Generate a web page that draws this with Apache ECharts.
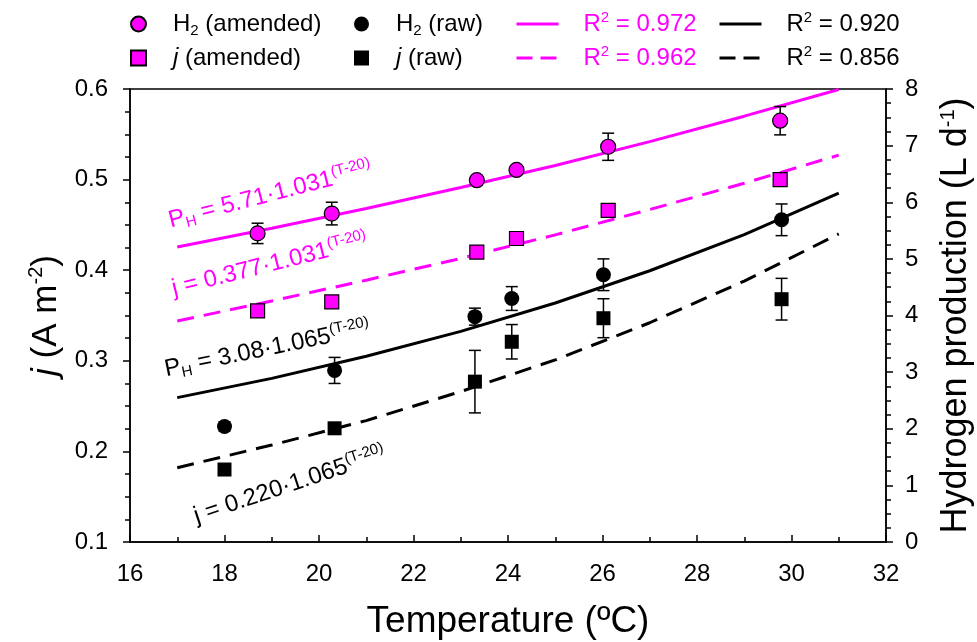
<!DOCTYPE html>
<html><head><meta charset="utf-8">
<style>html,body{margin:0;padding:0;background:#fff}#c{width:977px;height:642px}</style>
<script src="https://cdn.jsdelivr.net/npm/echarts@6/dist/echarts.min.js"></script>
</head><body><div id="c"></div>
<script>
// ---------- data ----------
const tAmended   = [18.7, 20.27, 23.34, 24.18, 26.12, 29.76];
const hAmended   = [5.45, 5.80, 6.39, 6.57, 6.98, 7.44];
const hAmendedErr= [0.18, 0.20, 0.07, 0.07, 0.24, 0.25];
const jAmended   = [0.355, 0.365, 0.420, 0.435, 0.466, 0.500];
const jAmendedErr= [0.004, 0.004, 0.005, 0.005, 0.004, 0.006];

const tRaw       = [18.0, 20.33, 23.3, 24.08, 26.02, 29.79];
const hRaw       = [2.04, 3.03, 3.98, 4.30, 4.72, 5.69];
const hRawErr    = [0.08, 0.23, 0.15, 0.21, 0.28, 0.28];
const jRaw       = [0.180, 0.2255, 0.277, 0.321, 0.347, 0.368];
const jRawErr    = [0.003, 0.004, 0.0345, 0.019, 0.0215, 0.023];

// fitted curves
const tFit        = [17, 19, 21, 23, 25, 27, 29, 31];
const hAmendedFit = [5.21, 5.54, 5.89, 6.26, 6.65, 7.07, 7.52, 7.99];
const jAmendedFit = [0.344, 0.366, 0.389, 0.413, 0.439, 0.467, 0.496, 0.527];
const hRawFit     = [2.55, 2.89, 3.28, 3.72, 4.22, 4.79, 5.43, 6.16];
const jRawFit     = [0.182, 0.207, 0.234, 0.266, 0.301, 0.342, 0.388, 0.440];

const seriesNames = ['H2 (amended)', 'j (amended)', 'H2 (raw)', 'j (raw)'];
const fitNames    = ['R2 = 0.972', 'R2 = 0.962', 'R2 = 0.920', 'R2 = 0.856'];
const xTitle = 'Temperature (ºC)';
const yLeftTitle = '{it|j} (A m{sup|-2})';
const yRightTitle = 'Hydrogen production (L d{sup|-1})';
const equations = [
  'P{sub|H} = 5.71·1.031{sup|(T-20)}',
  'j = 0.377·1.031{sup|(T-20)}',
  'P{sub|H} = 3.08·1.065{sup|(T-20)}',
  'j = 0.220·1.065{sup|(T-20)}'
];

// ---------- styling ----------
const MAG = '#ff00ff';
const FONT = '"Liberation Sans", Arial, sans-serif';
const DASH = [17, 10];
const zip = (a, b) => a.map((v, i) => [v, b[i]]);

function errSeries(t, v, e, yIdx) {
  return {
    type: 'custom', yAxisIndex: yIdx, silent: true, z: 4,
    data: t.map((x, i) => [x, v[i], e[i]]),
    encode: { x: 0, y: 1 },
    renderItem: (params, api) => {
      const x = api.value(0), y = api.value(1), er = api.value(2);
      const top = api.coord([x, y + er]);
      const bot = api.coord([x, y - er]);
      const hw = 6, st = { stroke: '#000', lineWidth: 1.5 };
      return { type: 'group', children: [
        { type: 'line', shape: { x1: top[0], y1: top[1], x2: bot[0], y2: bot[1] }, style: st },
        { type: 'line', shape: { x1: top[0] - hw, y1: top[1], x2: top[0] + hw, y2: top[1] }, style: st },
        { type: 'line', shape: { x1: bot[0] - hw, y1: bot[1], x2: bot[0] + hw, y2: bot[1] }, style: st }
      ]};
    }
  };
}

const legendRich = (color) => ({
  sub: { fontSize: 15, verticalAlign: 'bottom', lineHeight: 14, color: color, fontFamily: FONT },
  sup: { fontSize: 15, verticalAlign: 'top', lineHeight: 14, color: color, fontFamily: FONT },
  it:  { fontSize: 24, fontStyle: 'italic', lineHeight: 28, color: color, fontFamily: FONT }
});
const legendFmt = (name) => name.replace(/^H2/, 'H{sub|2}').replace(/^R2/, 'R{sup|2}').replace(/^j /, '{it|j} ');
const hidden = { color: 'rgba(0,0,0,0)', borderColor: 'rgba(0,0,0,0)', borderWidth: 0, opacity: 0 };
function mkLegend(items, left, isLine, color) {
  return {
    data: items, left: left, top: 10, orient: 'vertical', itemGap: 6, padding: 0,
    itemWidth: isLine ? 42 : 15, itemHeight: 15, selectedMode: false,
    formatter: legendFmt,
    textStyle: { fontSize: 24, fontFamily: FONT, color: color, lineHeight: 28,
                 padding: [0, 0, 0, isLine ? 20 : 22], rich: legendRich(color) }
  };
}

const axisCommon = {
  axisLine: { show: true, lineStyle: { color: '#000', width: 1.5 } },
  splitLine: { show: false },
};

const chart = echarts.init(document.getElementById('c'), null, { renderer: 'canvas' });
chart.setOption({
  animation: false,
  backgroundColor: '#fff',
  grid: { left: 130, right: 91, top: 89, bottom: 100, show: true, borderColor: '#000', borderWidth: 1.5,
          containLabel: false, outerBoundsMode: 'none' },
  legend: [
    mkLegend([seriesNames[0], seriesNames[1]], 130, false, '#000'),
    mkLegend([seriesNames[2], seriesNames[3]], 354, false, '#000'),
    mkLegend([
      { name: fitNames[0], itemStyle: hidden, lineStyle: { color: MAG, width: 3, type: 'solid' } },
      { name: fitNames[1], itemStyle: hidden, lineStyle: { color: MAG, width: 3, type: [16, 8] } }
    ], 515, true, MAG),
    mkLegend([
      { name: fitNames[2], itemStyle: hidden, lineStyle: { color: '#000', width: 3, type: 'solid' } },
      { name: fitNames[3], itemStyle: hidden, lineStyle: { color: '#000', width: 3, type: [16, 8] } }
    ], 718, true, '#000')
  ],
  xAxis: Object.assign({
    type: 'value', min: 16, max: 32, interval: 2,
    axisTick: { inside: true, length: 7, lineStyle: { color: '#000', width: 1.5 } },
    minorTick: { show: true, splitNumber: 2, length: 5, lineStyle: { color: '#000', width: 1.5 } },
    axisLabel: { fontSize: 24, color: '#000', margin: 20, fontFamily: FONT },
    name: xTitle, nameLocation: 'middle', nameGap: 61,
    nameTextStyle: { fontSize: 37, color: '#000', fontFamily: FONT }
  }, axisCommon),
  yAxis: [
    Object.assign({
      type: 'value', min: 0.1, max: 0.6, interval: 0.1, position: 'left',
      axisTick: { inside: false, length: 7, lineStyle: { color: '#000', width: 1.5 } },
      minorTick: { show: true, splitNumber: 4, length: 5, lineStyle: { color: '#000', width: 1.5 } },
      axisLabel: { fontSize: 24, color: '#000', margin: 22, fontFamily: FONT, formatter: v => v.toFixed(1) },
      name: yLeftTitle, nameLocation: 'middle', nameGap: 62, nameRotate: 90,
      nameTextStyle: { fontSize: 35, color: '#000', fontFamily: FONT,
        rich: { it: { fontSize: 35, fontStyle: 'italic', fontFamily: FONT, color: '#000', lineHeight: 40 },
                sup: { fontSize: 20, verticalAlign: 'top', fontFamily: FONT, color: '#000', lineHeight: 20 } } }
    }, axisCommon),
    Object.assign({
      type: 'value', min: 0, max: 8, interval: 1, position: 'right',
      axisTick: { inside: false, length: 7, lineStyle: { color: '#000', width: 1.5 } },
      minorTick: { show: true, splitNumber: 4, length: 5, lineStyle: { color: '#000', width: 1.5 } },
      axisLabel: { fontSize: 24, color: '#000', margin: 19, fontFamily: FONT },
      name: yRightTitle, nameLocation: 'middle', nameGap: 52, nameRotate: 90,
      nameTextStyle: { fontSize: 36, color: '#000', fontFamily: FONT,
        rich: { sup: { fontSize: 20, verticalAlign: 'top', fontFamily: FONT, color: '#000', lineHeight: 20 } } }
    }, axisCommon)
  ],
  series: [
    { name: fitNames[0], type: 'line', yAxisIndex: 1, data: zip(tFit, hAmendedFit), symbol: 'none', showSymbol: false, z: 3,
      lineStyle: { color: MAG, width: 3 }, itemStyle: { color: MAG } },
    { name: fitNames[1], type: 'line', yAxisIndex: 0, data: zip(tFit, jAmendedFit), symbol: 'none', showSymbol: false, z: 3,
      lineStyle: { color: MAG, width: 3, type: DASH }, itemStyle: { color: MAG } },
    { name: fitNames[2], type: 'line', yAxisIndex: 1, data: zip(tFit, hRawFit), symbol: 'none', showSymbol: false, z: 3,
      lineStyle: { color: '#000', width: 3 }, itemStyle: { color: '#000' } },
    { name: fitNames[3], type: 'line', yAxisIndex: 0, data: zip(tFit, jRawFit), symbol: 'none', showSymbol: false, z: 3,
      lineStyle: { color: '#000', width: 3, type: DASH }, itemStyle: { color: '#000' } },
    errSeries(tAmended, hAmended, hAmendedErr, 1),
    errSeries(tAmended, jAmended, jAmendedErr, 0),
    errSeries(tRaw, hRaw, hRawErr, 1),
    errSeries(tRaw, jRaw, jRawErr, 0),
    { name: seriesNames[0], type: 'scatter', yAxisIndex: 1, data: zip(tAmended, hAmended), symbol: 'circle', symbolSize: 15, z: 5,
      itemStyle: { color: MAG, borderColor: '#000', borderWidth: 1.2, opacity: 1 } },
    { name: seriesNames[1], type: 'scatter', yAxisIndex: 0, data: zip(tAmended, jAmended), symbol: 'rect', symbolSize: 14, z: 5,
      itemStyle: { color: MAG, borderColor: '#000', borderWidth: 1.2, opacity: 1 } },
    { name: seriesNames[2], type: 'scatter', yAxisIndex: 1, data: zip(tRaw, hRaw), symbol: 'circle', symbolSize: 15, z: 5,
      itemStyle: { color: '#000', opacity: 1 } },
    { name: seriesNames[3], type: 'scatter', yAxisIndex: 0, data: zip(tRaw, jRaw), symbol: 'rect', symbolSize: 14, z: 5,
      itemStyle: { color: '#000', opacity: 1 } }
  ]
});

// equation annotations anchored in data coordinates
const noteAnchors = [
  { at: [16.9, 5.43], axis: 1, angle: 14.5, color: MAG },
  { at: [16.97, 0.364], axis: 0, angle: 14, color: MAG },
  { at: [16.8, 2.80], axis: 1, angle: 11.5, color: '#000' },
  { at: [17.46, 0.113], axis: 0, angle: 18.5, color: '#000' }
];
const graphics = noteAnchors.map((n, i) => {
  const p = chart.convertToPixel({ xAxisIndex: 0, yAxisIndex: n.axis }, n.at);
  return {
    type: 'text', x: p[0], y: p[1], rotation: n.angle * Math.PI / 180, silent: true, z: 10,
    style: {
      text: equations[i], fill: n.color, fontSize: 24, fontFamily: FONT, lineHeight: 28,
      align: 'left', verticalAlign: 'bottom',
      rich: {
        sub: { fontSize: 15, verticalAlign: 'bottom', lineHeight: 12, fill: n.color, fontFamily: FONT },
        sup: { fontSize: 15, verticalAlign: 'top', lineHeight: 12, fill: n.color, fontFamily: FONT }
      }
    }
  };
});
chart.setOption({ graphic: graphics });
</script></body></html>
